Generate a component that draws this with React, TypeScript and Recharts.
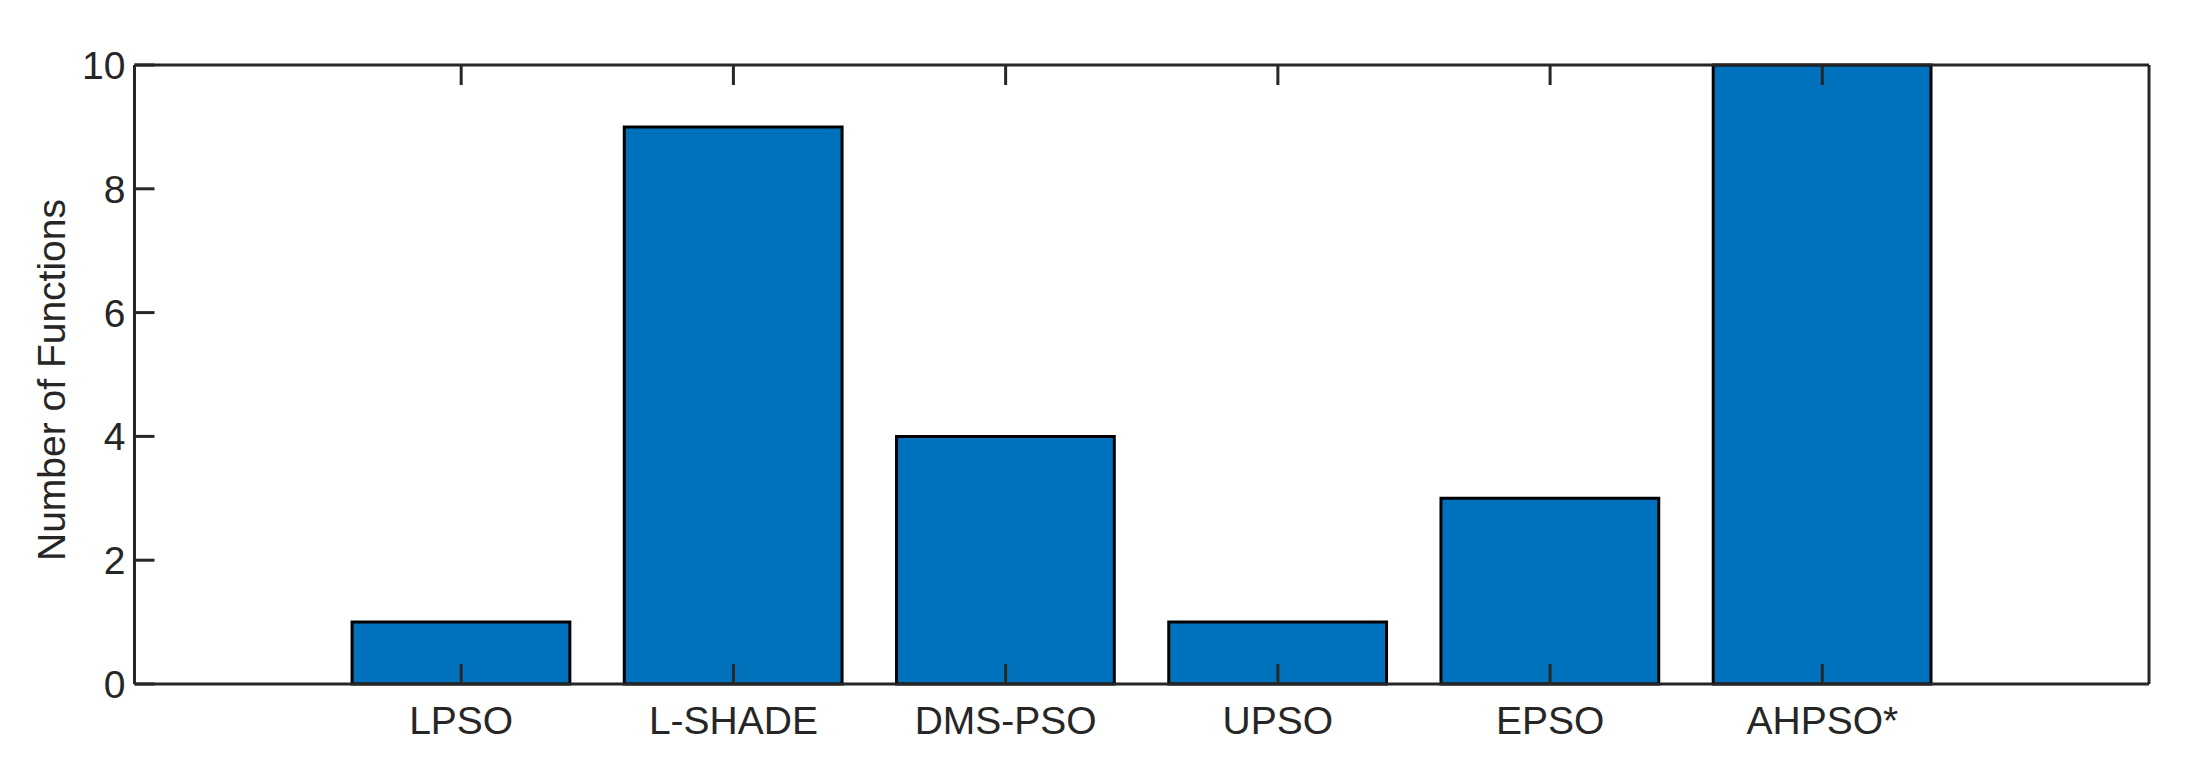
import React from 'react'
import { BarChart, Bar, XAxis, YAxis } from 'recharts'

// values
const algorithms = ['LPSO', 'L-SHADE', 'DMS-PSO', 'UPSO', 'EPSO', 'AHPSO*']
const functionCounts = [1, 9, 4, 1, 3, 10]
const yTicks = [0, 2, 4, 6, 8, 10]

const data = algorithms.map((name, i) => ({ name, count: functionCounts[i] }))

const W = 2195
const H = 784
const PLOT_LEFT = 134.5
const PLOT_RIGHT = 2149
const PLOT_TOP = 65
const PLOT_BOTTOM = 684
// matlab xlim is [-0.2, 7.2] with the bars at 1..6
const slot = (PLOT_RIGHT - PLOT_LEFT) / 7.4
const edgePad = slot * 0.7
const TICK = 20
const INK = '#262626'
const FONT = '"Liberation Sans", Arial, Helvetica, sans-serif'
const FS = 39

const BottomTick = ({ x, y, payload }: any) => (
  <g>
    <line x1={x} y1={y} x2={x} y2={y - TICK} stroke={INK} strokeWidth={3} />
    <text x={x} y={y + 50} textAnchor="middle" fontSize={FS} fill={INK} fontFamily={FONT}>
      {payload.value}
    </text>
  </g>
)

const TopTick = ({ x, y }: any) => (
  <line x1={x} y1={y} x2={x} y2={y + TICK} stroke={INK} strokeWidth={3} />
)

const LeftTick = ({ x, y, payload }: any) => (
  <g>
    <line x1={x} y1={y} x2={x + TICK} y2={y} stroke={INK} strokeWidth={3} />
    <text x={x - 9} y={y + 14} textAnchor="end" fontSize={FS} fill={INK} fontFamily={FONT}>
      {payload.value}
    </text>
  </g>
)

const RightTick = ({ x, y }: any) => (
  <line x1={x} y1={y} x2={x - TICK} y2={y} stroke={INK} strokeWidth={3} />
)

const YTitle = () => (
  <text
    x={65}
    y={380}
    transform="rotate(-90, 65, 380)"
    textAnchor="middle"
    fontSize={FS}
    fill={INK}
    fontFamily={FONT}
  >
    Number of Functions
  </text>
)

export default function App() {
  const axisLine = { stroke: INK, strokeWidth: 3 }
  return (
    <div>
      <style>{'body{margin:0;background:#fff}'}</style>
      <BarChart
        width={W}
        height={H}
        data={data}
        margin={{ top: PLOT_TOP - 1, right: W - PLOT_RIGHT - 1, bottom: 0, left: 0 }}
      >
        <XAxis
          xAxisId="bottom"
          dataKey="name"
          height={H - PLOT_BOTTOM}
          padding={{ left: edgePad, right: edgePad }}
          interval={0}
          tickSize={0}
          tickMargin={0}
          tickLine={false}
          axisLine={axisLine}
          tick={<BottomTick />}
        />
        <XAxis
          xAxisId="top"
          orientation="top"
          dataKey="name"
          height={1}
          padding={{ left: edgePad, right: edgePad }}
          interval={0}
          tickSize={0}
          tickMargin={0}
          tickLine={false}
          axisLine={axisLine}
          tick={<TopTick />}
        />
        <YAxis
          yAxisId="left"
          width={PLOT_LEFT}
          domain={[0, 10]}
          ticks={yTicks}
          interval={0}
          tickSize={0}
          tickMargin={0}
          tickLine={false}
          axisLine={axisLine}
          tick={<LeftTick />}
          label={<YTitle />}
        />
        <YAxis
          yAxisId="right"
          orientation="right"
          width={1}
          domain={[0, 10]}
          ticks={yTicks}
          interval={0}
          tickSize={0}
          tickMargin={0}
          tickLine={false}
          axisLine={axisLine}
          tick={<RightTick />}
        />
        <Bar
          dataKey="count"
          xAxisId="bottom"
          yAxisId="left"
          fill="#0072BD"
          stroke="#000000"
          strokeWidth={3}
          barSize={slot * 0.8}
          isAnimationActive={false}
        />
      </BarChart>
    </div>
  )
}
